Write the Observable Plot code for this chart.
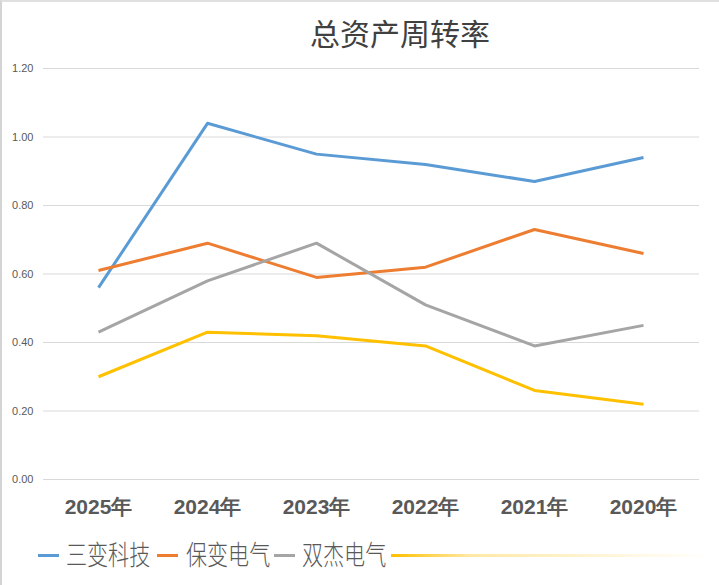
<!DOCTYPE html>
<html><head><meta charset="utf-8">
<script src="https://cdn.jsdelivr.net/npm/d3@7"></script>
<script src="https://cdn.jsdelivr.net/npm/@observablehq/plot@0.6"></script>
<style>
body{margin:0;background:#fff;}
#wrap{position:relative;width:719px;height:585px;overflow:hidden;font-family:"Noto Sans CJK SC",sans-serif;background:#fff;box-sizing:border-box;border-left:2px solid #d4d4d4;border-top:2px solid #e0e0e0;}
#chart{position:absolute;left:-2px;top:-2px;}
#title{position:absolute;left:0;width:796px;top:10px;text-align:center;font-size:30px;color:#404040;font-family:"Noto Sans CJK SC",serif;line-height:40px;}
#legend{position:absolute;left:0;top:532px;height:40px;width:719px;}
.sw{position:absolute;height:3px;top:20px;}
.lt{position:absolute;top:0;font-size:27px;line-height:40px;color:#595959;transform:scaleX(0.78);transform-origin:left center;white-space:nowrap;font-weight:300;}
</style></head><body>
<div id="wrap">
<div id="chart"></div>
<div id="title">总资产周转率</div>
<div id="legend"></div>
</div>
<script>
const years = ["2025年","2024年","2023年","2022年","2021年","2020年"];
const sanbian = [0.56,1.04,0.95,0.92,0.87,0.94];
const baobian = [0.61,0.69,0.59,0.62,0.73,0.66];
const shuangjie = [0.43,0.58,0.69,0.51,0.39,0.45];
const fourth = [0.30,0.43,0.42,0.39,0.26,0.22];
const seriesNames = ["三变科技","保变电气","双杰电气","系列4"];
const seriesValues = [sanbian, baobian, shuangjie, fourth];
const colors = ["#5b9bd5","#ed7d31","#a5a5a5","#ffc000"];
const yTicks = [0,0.2,0.4,0.6,0.8,1.0,1.2];

const data = [];
seriesValues.forEach((vals, si) => vals.forEach((v, i) => data.push({year: years[i], value: v, series: seriesNames[si]})));

const chart = Plot.plot({
  width: 719,
  height: 585,
  marginTop: 68,
  marginBottom: 106,
  marginLeft: 43,
  marginRight: 20,
  style: {fontFamily: "'Liberation Sans', sans-serif", background: "transparent"},
  x: {type: "point", domain: years, range: [96, 645], padding: 0},
  y: {domain: [0, 1.2]},
  color: {domain: seriesNames, range: colors},
  marks: [
    Plot.ruleY(yTicks, {stroke: "#d9d9d9", strokeWidth: 1}),
    Plot.axisY(yTicks, {tickSize: 0, tickPadding: 10, tickFormat: d3.format(".2f"), fontSize: 11, fill: "#595959", label: null}),
    Plot.axisX({tickSize: 0, tickPadding: 20, fontSize: 21, fontWeight: "bold", fill: "#595959", label: null}),
    Plot.line(data, {x: "year", y: "value", z: "series", stroke: "series", strokeWidth: 3, strokeLinejoin: "round", strokeLinecap: "butt"})
  ]
});
document.getElementById("chart").appendChild(chart);

const legend = document.getElementById("legend");
const swX = [36, 155, 272, 389];
const txtX = [64, 184, 300, null];
seriesNames.forEach((name, i) => {
  const sw = document.createElement("div");
  sw.className = "sw";
  sw.style.left = swX[i] + "px";
  if (i === 3) {
    sw.style.width = "320px";
    sw.style.background = "linear-gradient(to right, " + colors[i] + " 0%, rgba(255,192,0,0.35) 25%, rgba(255,255,255,0) 100%)";
  } else {
    sw.style.width = "21px";
    sw.style.background = colors[i];
  }
  legend.appendChild(sw);
  if (txtX[i] !== null) {
    const t = document.createElement("div");
    t.className = "lt";
    t.style.left = txtX[i] + "px";
    t.textContent = name;
    legend.appendChild(t);
  }
});
</script>
</body></html>
